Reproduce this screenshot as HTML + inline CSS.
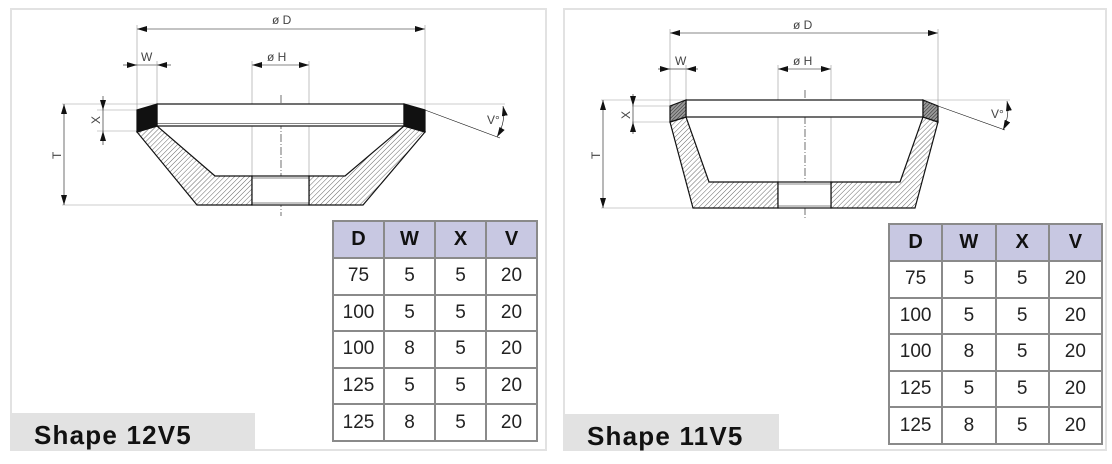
<!DOCTYPE html>
<html><head><meta charset="utf-8"><style>
body{margin:0;width:1112px;height:464px;background:#fff;position:relative;overflow:hidden;font-family:"Liberation Sans",sans-serif}
.panel{position:absolute;border:2px solid #e2e2e2;box-sizing:border-box}
.lbl{position:absolute;background:#e2e2e2;font-weight:bold;font-size:26px;letter-spacing:1.2px;color:#111;box-sizing:border-box;padding-left:22px;line-height:36px;padding-top:4px;font-family:"Liberation Sans",sans-serif}
table{position:absolute;border-collapse:collapse;font-family:"Liberation Sans",sans-serif}
td{border:2px solid #8a8a8a;text-align:center;font-size:19px;color:#222;padding:0;width:49px}
tr.h td{background:#c8c8e2;font-weight:bold;font-size:20px;color:#111}
svg{position:absolute;left:0;top:0}
</style></head><body>
<div class="panel" style="left:10px;top:8px;width:537px;height:443px"></div>
<div class="panel" style="left:563px;top:8px;width:544px;height:443px"></div>
<div class="lbl" style="left:12px;top:413px;width:243px;height:36px">Shape 12V5</div>
<div class="lbl" style="left:565px;top:414px;width:214px;height:35px">Shape 11V5</div>

<table style="left:332px;top:220px;width:206px">
<tr class="h" style="height:37px"><td>D</td><td>W</td><td>X</td><td>V</td></tr>
<tr style="height:36.6px"><td>75</td><td>5</td><td>5</td><td>20</td></tr>
<tr style="height:36.6px"><td>100</td><td>5</td><td>5</td><td>20</td></tr>
<tr style="height:36.6px"><td>100</td><td>8</td><td>5</td><td>20</td></tr>
<tr style="height:36.6px"><td>125</td><td>5</td><td>5</td><td>20</td></tr>
<tr style="height:36.6px"><td>125</td><td>8</td><td>5</td><td>20</td></tr>
</table>
<table style="left:888px;top:223px;width:215px">
<tr class="h" style="height:37px"><td>D</td><td>W</td><td>X</td><td>V</td></tr>
<tr style="height:36.6px"><td>75</td><td>5</td><td>5</td><td>20</td></tr>
<tr style="height:36.6px"><td>100</td><td>5</td><td>5</td><td>20</td></tr>
<tr style="height:36.6px"><td>100</td><td>8</td><td>5</td><td>20</td></tr>
<tr style="height:36.6px"><td>125</td><td>5</td><td>5</td><td>20</td></tr>
<tr style="height:36.6px"><td>125</td><td>8</td><td>5</td><td>20</td></tr>
</table>

<svg width="1112" height="464" viewBox="0 0 1112 464">
<defs>
<pattern id="h" width="3.5" height="3.5" patternUnits="userSpaceOnUse" patternTransform="rotate(45)"><line x1="0" y1="0" x2="0" y2="3.5" stroke="#555" stroke-width="0.9"/></pattern>
<pattern id="h2" width="2.5" height="2.5" patternUnits="userSpaceOnUse" patternTransform="rotate(45)"><rect width="2.5" height="2.5" fill="#999"/><line x1="0" y1="0" x2="0" y2="2.5" stroke="#222" stroke-width="1"/></pattern>
<marker id="a" viewBox="0 0 10 6" refX="10" refY="3" markerWidth="10" markerHeight="6" orient="auto-start-reverse" markerUnits="userSpaceOnUse"><path d="M0,0L10,3L0,6z" fill="#111"/></marker>
</defs>
<g font-family="Liberation Sans,sans-serif" font-size="12" fill="#444" stroke="none">
<text x="272" y="24">ø D</text><text x="141" y="61">W</text><text x="267" y="61">ø H</text>
<text x="487" y="124">V°</text>
<text transform="translate(61,159) rotate(-90)">T</text><text transform="translate(100,124) rotate(-90)">X</text>
<text x="793" y="29">ø D</text><text x="675" y="65">W</text><text x="793" y="65">ø H</text>
<text x="991" y="118">V°</text>
<text transform="translate(600,159) rotate(-90)">T</text><text transform="translate(630,119) rotate(-90)">X</text>
</g>
<!-- Drawing 1 -->
<g stroke="#111" fill="none" stroke-width="0.6">
<line x1="137" y1="29" x2="425" y2="29" marker-start="url(#a)" marker-end="url(#a)"/>
<line x1="137" y1="25" x2="137" y2="110" stroke="#999"/><line x1="425" y1="25" x2="425" y2="110" stroke="#999"/>
<line x1="123" y1="65" x2="137" y2="65" marker-end="url(#a)"/><line x1="171" y1="65" x2="157" y2="65" marker-end="url(#a)"/>
<line x1="137" y1="65" x2="157" y2="65"/>
<line x1="157" y1="61" x2="157" y2="104" stroke="#999"/>
<line x1="252" y1="65" x2="309" y2="65" marker-start="url(#a)" marker-end="url(#a)"/>
<line x1="252" y1="61" x2="252" y2="176" stroke="#999"/><line x1="309" y1="61" x2="309" y2="176" stroke="#999"/>
<line x1="281" y1="95" x2="281" y2="216" stroke-dasharray="8,2,1,2"/>
<line x1="62" y1="104" x2="157" y2="104" stroke="#999"/><line x1="62" y1="205" x2="197" y2="205" stroke="#999"/>
<line x1="64" y1="104" x2="64" y2="205" marker-start="url(#a)" marker-end="url(#a)"/>
<line x1="97" y1="110" x2="137" y2="110" stroke="#999"/><line x1="97" y1="131" x2="137" y2="131" stroke="#999"/>
<line x1="103" y1="96" x2="103" y2="110" marker-end="url(#a)"/><line x1="103" y1="145" x2="103" y2="131" marker-end="url(#a)"/><line x1="103" y1="110" x2="103" y2="131"/>
<line x1="404" y1="104" x2="505" y2="104" stroke="#999"/><line x1="425" y1="110" x2="500" y2="138"/>
<path d="M503,106 Q506,122 497,137" marker-start="url(#a)" marker-end="url(#a)"/>
</g>
<g stroke="#111" stroke-width="1.2">
<path d="M137,132 L157,126 L215,176 L252,176 L252,205 L197,205 Z" fill="url(#h)"/>
<path d="M425,132 L404,126 L345,176 L309,176 L309,205 L363,205 Z" fill="url(#h)"/>
<rect x="252" y="176" width="57" height="29" fill="#fff"/>
<line x1="252" y1="178" x2="309" y2="178" stroke-width="0.6"/><line x1="252" y1="203" x2="309" y2="203" stroke-width="0.6"/>
<rect x="157" y="104" width="247" height="22" fill="#fff"/>
<line x1="157" y1="123.5" x2="404" y2="123.5" stroke-width="0.6"/>
<path d="M137,110 L157,104 L157,126 L137,132 Z" fill="#111"/>
<path d="M404,104 L425,110 L425,132 L404,126 Z" fill="#111"/>
</g>
<!-- Drawing 2 -->
<g stroke="#111" fill="none" stroke-width="0.6">
<line x1="670" y1="33" x2="938" y2="33" marker-start="url(#a)" marker-end="url(#a)"/>
<line x1="670" y1="29" x2="670" y2="106" stroke="#999"/><line x1="938" y1="29" x2="938" y2="106" stroke="#999"/>
<line x1="658" y1="69" x2="670" y2="69" marker-end="url(#a)"/><line x1="698" y1="69" x2="686" y2="69" marker-end="url(#a)"/><line x1="670" y1="69" x2="686" y2="69"/>
<line x1="686" y1="65" x2="686" y2="100" stroke="#999"/>
<line x1="778" y1="69" x2="831" y2="69" marker-start="url(#a)" marker-end="url(#a)"/>
<line x1="778" y1="65" x2="778" y2="182" stroke="#999"/><line x1="831" y1="65" x2="831" y2="182" stroke="#999"/>
<line x1="805" y1="90" x2="805" y2="218" stroke-dasharray="8,2,1,2"/>
<line x1="601" y1="100" x2="686" y2="100" stroke="#999"/><line x1="601" y1="208" x2="693" y2="208" stroke="#999"/>
<line x1="603" y1="100" x2="603" y2="208" marker-start="url(#a)" marker-end="url(#a)"/>
<line x1="632" y1="106" x2="670" y2="106" stroke="#999"/><line x1="632" y1="122" x2="670" y2="122" stroke="#999"/>
<line x1="633" y1="94" x2="633" y2="106" marker-end="url(#a)"/><line x1="633" y1="134" x2="633" y2="122" marker-end="url(#a)"/><line x1="633" y1="106" x2="633" y2="122"/>
<line x1="923" y1="100" x2="1010" y2="100" stroke="#999"/><line x1="938" y1="106" x2="1005" y2="130"/>
<path d="M1007,101 Q1010,116 1003,130" marker-start="url(#a)" marker-end="url(#a)"/>
</g>
<g stroke="#111" stroke-width="1.2">
<path d="M670,122 L686,117 L709,182 L778,182 L778,208 L693,208 Z" fill="url(#h)"/>
<path d="M938,122 L923,117 L900,182 L831,182 L831,208 L915,208 Z" fill="url(#h)"/>
<rect x="778" y="182" width="53" height="26" fill="#fff"/>
<line x1="778" y1="184" x2="831" y2="184" stroke-width="0.6"/><line x1="778" y1="206" x2="831" y2="206" stroke-width="0.6"/>
<rect x="686" y="100" width="237" height="17" fill="#fff"/>
<path d="M670,106 L686,100 L686,117 L670,122 Z" fill="url(#h2)"/>
<path d="M923,100 L938,106 L938,122 L923,117 Z" fill="url(#h2)"/>
</g>
</svg>
</body></html>
